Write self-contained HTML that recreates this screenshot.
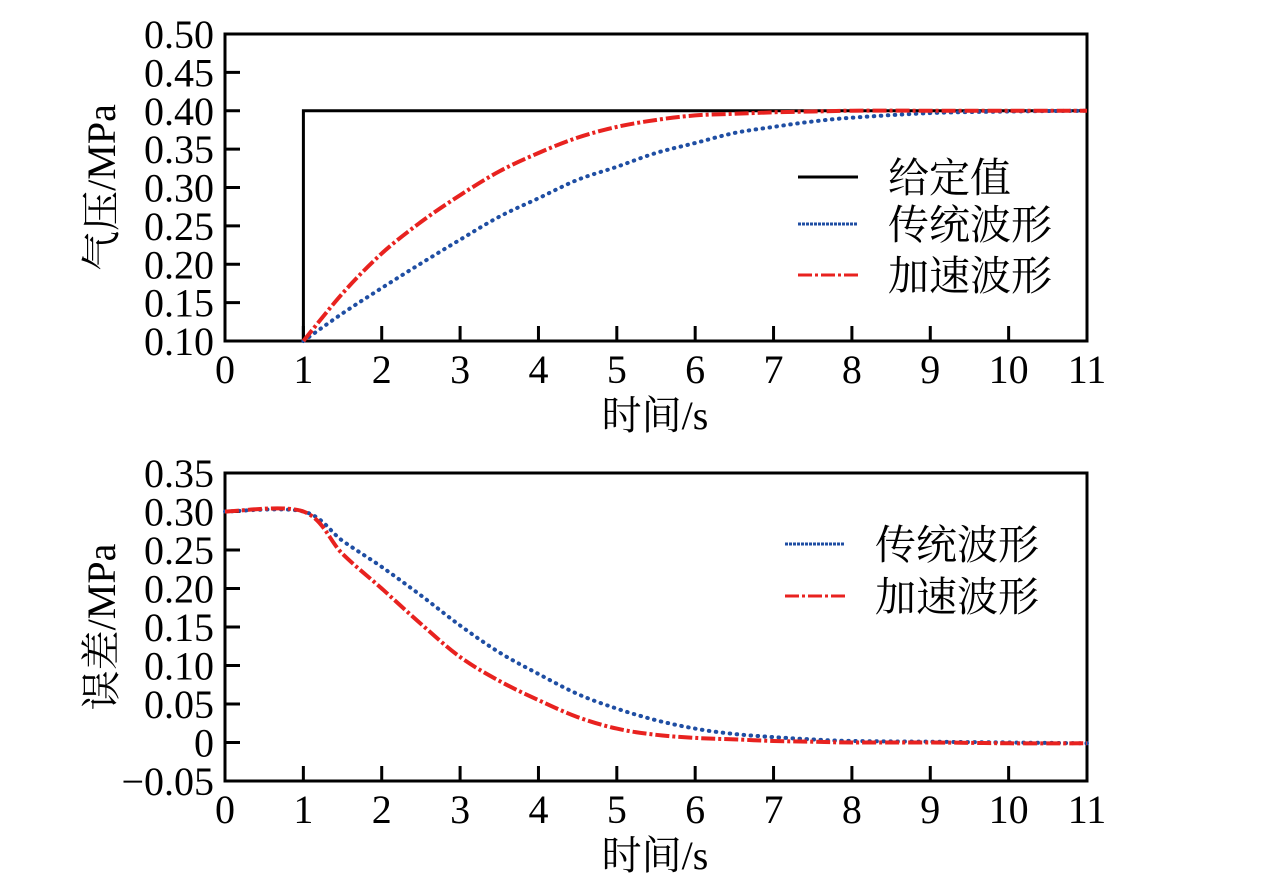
<!DOCTYPE html>
<html><head><meta charset="utf-8"><style>
body{margin:0;background:#fff}
svg{display:block}
text{font-family:"Liberation Serif","Noto Serif CJK SC","Noto Sans CJK SC",serif;fill:#000}
</style></head><body>
<svg id="c" width="1276" height="880"></svg>
<script>
const tTop=[1,1.5,2,2.5,3,3.5,4,4.5,5,5.5,6,6.5,7,7.5,8,9,10,11];
const blueTop=[0.10,0.136,0.169,0.201,0.232,0.262,0.286,0.310,0.327,0.345,0.358,0.371,0.379,0.386,0.391,0.397,0.399,0.400];
const redTop=[0.10,0.162,0.214,0.255,0.290,0.321,0.345,0.365,0.379,0.388,0.394,0.396,0.398,0.399,0.400,0.400,0.400,0.400];
const setT=[0,1,1,11];
const setV=[0.10,0.10,0.40,0.40];
const tBot=[0,1,1.5,2,2.5,3,3.5,4,4.5,5,5.5,6,6.5,7,7.5,8,9,10,11];
const blueBot=[0.30,0.30,0.262,0.228,0.191,0.152,0.117,0.089,0.063,0.044,0.029,0.018,0.011,0.007,0.004,0.002,0.001,0,-0.001];
const redBot=[0.30,0.30,0.245,0.200,0.154,0.111,0.080,0.055,0.033,0.018,0.010,0.006,0.004,0.002,0.001,0,0,-0.001,-0.001];
const xTicks=[0,1,2,3,4,5,6,7,8,9,10,11];
const yTicksTop=[0.10,0.15,0.20,0.25,0.30,0.35,0.40,0.45,0.50];
const yTicksBot=[-0.05,0,0.05,0.10,0.15,0.20,0.25,0.30,0.35];
const yLabelsBot=["\u22120.05","0","0.05","0.10","0.15","0.20","0.25","0.30","0.35"];

const svg=document.getElementById('c');
const NS='http://www.w3.org/2000/svg';
function mk(tag,attrs,txt){const e=document.createElementNS(NS,tag);for(const k in attrs)e.setAttribute(k,attrs[k]);if(txt!=null)e.textContent=txt;svg.appendChild(e);return e;}
const X0=225,X1=1087;
const xs=t=>X0+(X1-X0)*t/11;
function smooth(P){
  let d='M'+P[0][0].toFixed(1)+','+P[0][1].toFixed(1);
  for(let i=0;i<P.length-1;i++){
    const p0=P[Math.max(0,i-1)],p1=P[i],p2=P[i+1],p3=P[Math.min(P.length-1,i+2)];
    const c1=[p1[0]+(p2[0]-p0[0])/6,p1[1]+(p2[1]-p0[1])/6];
    const c2=[p2[0]-(p3[0]-p1[0])/6,p2[1]-(p3[1]-p1[1])/6];
    d+='C'+c1.map(v=>v.toFixed(1)).join(',')+' '+c2.map(v=>v.toFixed(1)).join(',')+' '+p2[0].toFixed(1)+','+p2[1].toFixed(1);
  }
  return d;
}
function panel(p){
  const ys=v=>p.y1-(v-p.vmin)/(p.vmax-p.vmin)*(p.y1-p.y0);
  const box=mk('rect',{x:X0,y:p.y0,width:X1-X0,height:p.y1-p.y0,fill:'none',stroke:'#000','stroke-width':3});
  
  
  xTicks.forEach(t=>{
    const l=mk('line',{x1:xs(t),x2:xs(t),y1:p.y1,y2:p.y1-15,stroke:'#000','stroke-width':3});
    
    
    const tx=mk('text',{x:xs(t),y:p.y1+42,'text-anchor':'middle','font-size':40},String(t));
    
    
  });
  p.yt.forEach((v,i)=>{
    const l=mk('line',{x1:X0,x2:X0+15,y1:ys(v),y2:ys(v),stroke:'#000','stroke-width':3});
    
    
    const tx=mk('text',{x:214,y:ys(v)+14,'text-anchor':'end','font-size':40},p.yl[i]);
    
    
  });
  const xt=mk('text',{x:655,y:p.y1+88,'text-anchor':'middle','font-size':40},'时间/s');
  
  
  const yt=mk('text',{x:0,y:0,'text-anchor':'middle','font-size':40,transform:`translate(115,${(p.y0+p.y1)/2}) rotate(-90)`},p.ytitle);
  
  
  p.series.forEach(s=>{
    const P=s.t.map((t,i)=>[xs(t),ys(s.v[i])]);
    const d=s.step?P.map((q,i)=>(i?'L':'M')+q[0].toFixed(1)+','+q[1].toFixed(1)).join(''):smooth(P);
    const pa=mk('path',{d:d,fill:'none',stroke:s.color,'stroke-width':s.w,'stroke-dasharray':s.dash||'none','stroke-linecap':s.cap||'butt'});
    
    
  });
  p.legend.forEach(lg=>{
    const l=mk('line',{x1:lg.x,x2:lg.x+60,y1:lg.y,y2:lg.y,stroke:lg.color,'stroke-width':3,'stroke-dasharray':lg.dash||'none'});
    
    
    const tx=mk('text',{x:lg.x+90,y:lg.y+15,'font-size':41},lg.label);
    
    
  });
}
panel({name:'pressure',y0:34,y1:341,vmin:0.10,vmax:0.50,yt:yTicksTop,yl:yTicksTop.map(v=>v.toFixed(2)),ytitle:'气压/MPa',
  series:[{id:'setpoint',t:setT,v:setV,color:'#000',w:3,step:true},
          {id:'traditional',t:tTop,v:blueTop,color:'#1f4ea3',w:4,dash:'0.5 6.5',cap:'round'},
          {id:'accelerated',t:tTop,v:redTop,color:'#e8221f',w:4,dash:'14 3 3 3'}],
  legend:[{x:798,y:177,color:'#000',label:'给定值'},
          {x:798,y:224,color:'#1f4ea3',dash:'3 1',label:'传统波形'},
          {x:798,y:275,color:'#e8221f',dash:'14 3 3 3',label:'加速波形'}]});
panel({name:'error',y0:473,y1:781,vmin:-0.05,vmax:0.35,yt:yTicksBot,yl:yLabelsBot,ytitle:'误差/MPa',
  series:[{id:'traditional',t:tBot,v:blueBot,color:'#1f4ea3',w:4,dash:'0.5 6.5',cap:'round'},
          {id:'accelerated',t:tBot,v:redBot,color:'#e8221f',w:4,dash:'14 3 3 3'}],
  legend:[{x:785,y:544,color:'#1f4ea3',dash:'3 1',label:'传统波形'},
          {x:785,y:596,color:'#e8221f',dash:'14 3 3 3',label:'加速波形'}]});
</script>
</body></html>
